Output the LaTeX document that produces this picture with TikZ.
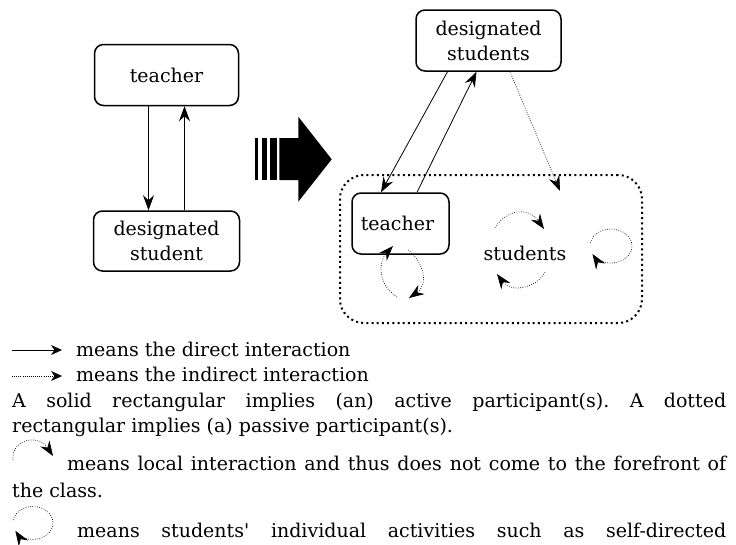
\documentclass[tikz,border=0pt]{standalone}
\usepackage{fontspec}
\setmainfont{DejaVu Serif}
\usepackage{tikz}
\usetikzlibrary{arrows.meta}
\tikzstyle{box} = 
[
	rectangle, 
	rounded corners = 9pt, 
	align = center, 
	inner sep = 0pt, 
	draw=black, 
	line width=1.5pt
]
\tikzstyle{group} = 
	[
		rectangle, 
		rounded corners = 24pt, 
		minimum width=302pt, 
		minimum height=148pt, 
		draw=black, 
		line width=2pt,
		dash pattern=on 2pt off 3.2pt
	]
\tikzstyle{legend} = [anchor=base west, inner sep=0pt]
\tikzstyle{arrow} = [line width=0.8pt,-{Stealth[length=15pt,width=11pt,inset=5pt]}]
\tikzstyle{dotarrow} = [arrow, line width=0.7pt, dash pattern=on 0.7pt off 1.6pt]
\tikzstyle{smallarrow} = [line width=0.8pt,-{Stealth[length=11pt,width=10pt,inset=3.5pt]}]
\tikzstyle{smalldotarrow} = [smallarrow, line width=0.7pt, dash pattern=on 0.7pt off 1.4pt]

\begin{document}
\frenchspacing
\begin{tikzpicture}[x=1pt, y=-1pt, font=\fontsize{19}{25}\selectfont]
	\useasboundingbox (0,0) rectangle (736,544);
	
	% before
	\node 
	(teacherA) 
	[
		box, 
		minimum width=144pt, 
		minimum height=61pt
	] 
	at (166.5,75) 
	{teacher};
	
	\node
	(designatedA)
	[
		box,
		minimum width=146pt, 
		minimum height=60pt
	]
	at (166.5,241)
	{
		designated\\student
	}
	;
	
	\draw [arrow] ([xshift=-18pt]teacherA.south) -- ([xshift=-18pt]designatedA.north);
	\draw [arrow] ([xshift=18pt]designatedA.north) -- ([xshift=18pt]teacherA.south);
	
	% big arrow
	\fill (255,138) rectangle (258.3,180);
	\fill (261.7,138) rectangle (266.7,180);
	\fill (270,138) rectangle (276.7,180);
	\fill (279.3,138) -- (298.3,138) -- (298.3,116.7) -- (331.7,159.3) 
		-- (298.3,201.7) -- (298.3,180) -- (279.3,180) -- cycle;
	
	% after
	\node
	(designatedB)
	[
		box,
		minimum width=145pt, 
		minimum height=61pt
	]
	at (488.5,40.5)
	{
		designated\\students
	}
	;
	
	\node
	(classGroup)
	[
		group
	]
	at (491,249)
	{};
	
	\node
	(teacherB)
	[
		box,
		minimum width=97pt, 
		minimum height=61pt
	]
	at (400.5,223.5)
	{
		teacher
	};
	
	\node
	(students)
	[
		inner sep=0pt
	]
	at (525,253)
	{
		students
	};
	
	\coordinate (dropIn) at (560,191);
	
	\draw [arrow] ([xshift=-41pt]designatedB.south) -- ([xshift=-19.5pt]teacherB.north);
	\draw [arrow] ([xshift=16.5pt]teacherB.north) -- ([xshift=-12pt]designatedB.south);
	\draw [dotarrow] ([xshift=21.5pt]designatedB.south) -- (dropIn);
	
	% local interactions
	\draw [dotarrow] (397,297) .. controls (378,285) and (378,262) .. (393,246);
	\draw [dotarrow] (408,250) .. controls (425,263) and (428,285) .. (409,298);
	\draw [dotarrow] (495,228) .. controls (505,210) and (528,206) .. (544,229);
	\draw [dotarrow] (545,272) .. controls (535,290) and (510,292) .. (497,274);
	\draw [dotarrow] (611,246) ++(190:21 and 17) arc (190:512:21 and 17);
	
	% legend
	\coordinate (solidA) at (12,350);
	\coordinate (solidB) at (62,350);
	\coordinate (dotA) at (12,376);
	\coordinate (dotB) at (62,376);
	\draw [smallarrow] (solidA) -- (solidB);
	\draw [smalldotarrow] (dotA) -- (dotB);
	
	\node (lineDirect) [legend] at (76,356) {means the direct interaction};
	\node (lineIndirect) [legend] at (76,381) {means the indirect interaction};
	\node (lineSolid) [legend] at (12,407) 
		{\makebox[714pt][s]{A solid rectangular implies (an) active participant(s). A dotted}};
	\node (lineDotted) [legend] at (12,432) {rectangular implies (a) passive participant(s).};
	
	\draw [dotarrow] (13,460) .. controls (11,440) and (38,433) .. (53,456);
	\node (lineLocal) [legend] at (67,470) 
		{\makebox[659pt][s]{means local interaction and thus does not come to the forefront of}};
	\node (lineClass) [legend] at (12,497) {the class.};
	
	\draw [dotarrow] (33,523) ++(190:20 and 16.5) arc (190:512:20 and 16.5);
	\node (lineSelf) [legend] at (77,537) 
		{\makebox[649pt][s]{means students\textquotesingle{} individual activities such as self-directed}};
	
\end{tikzpicture}
\end{document}
